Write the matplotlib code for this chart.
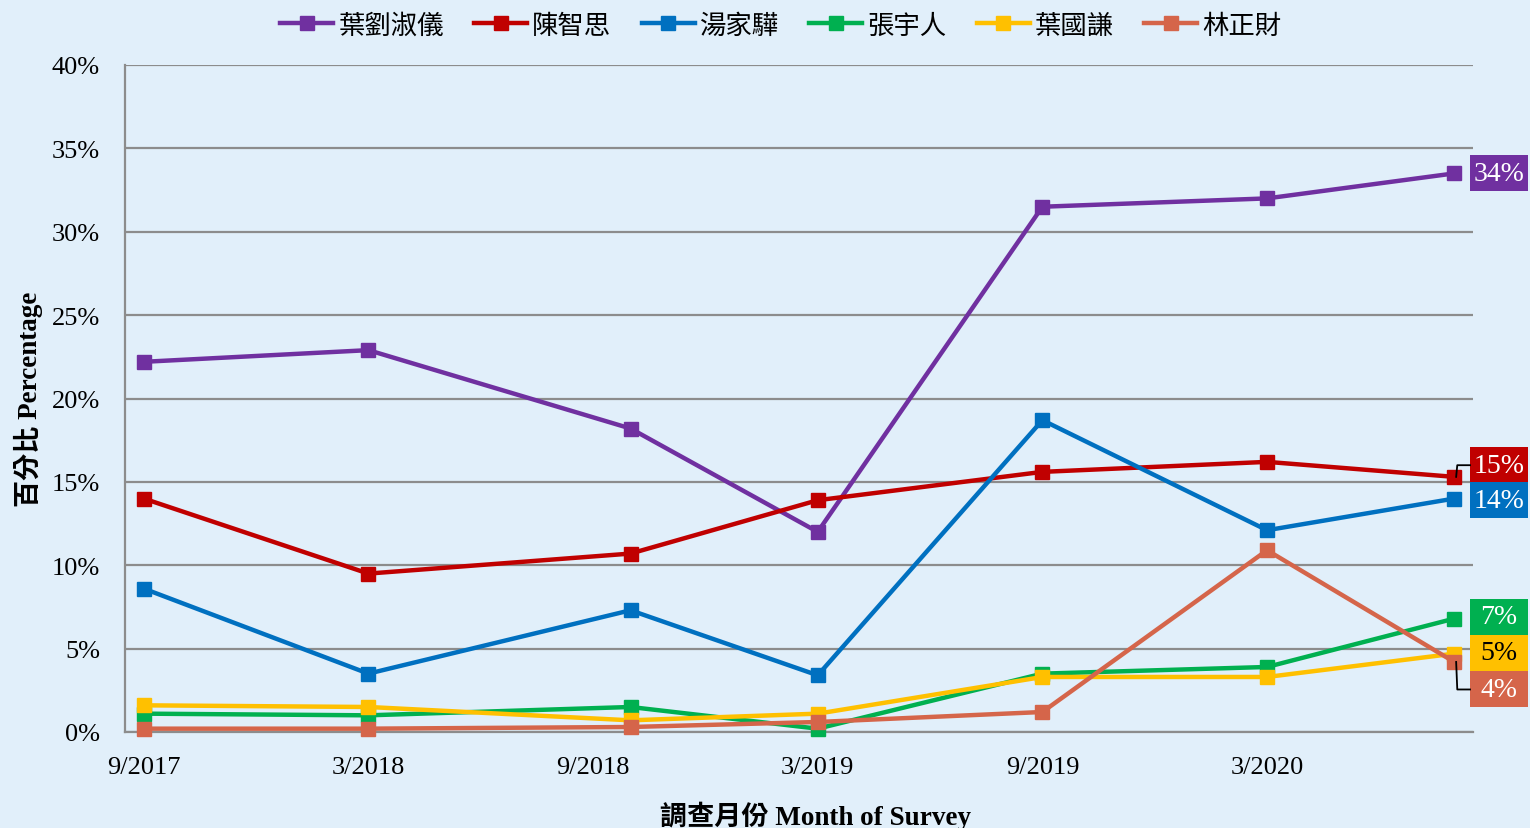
"""
Popularity trend of candidates by survey month
"""

import matplotlib
matplotlib.use("Agg")
import matplotlib.pyplot as plt
from matplotlib.patches import Rectangle

# survey data (percent)
survey_months = ["9/2017", "3/2018", "10/2018", "3/2019", "9/2019", "3/2020", "8/2020"]
tick_months = ["9/2017", "3/2018", "9/2018", "3/2019", "9/2019", "3/2020"]

names = ["葉劉淑儀", "陳智思", "湯家驊", "張宇人", "葉國謙", "林正財"]
regina_ip = [22.2, 22.9, 18.2, 12.0, 31.5, 32.0, 33.5]
bernard_chan = [14.0, 9.5, 10.7, 13.9, 15.6, 16.2, 15.3]
ronny_tong = [8.6, 3.5, 7.3, 3.4, 18.7, 12.1, 14.0]
tommy_cheung = [1.1, 1.0, 1.5, 0.2, 3.5, 3.9, 6.8]
ip_kwok_him = [1.6, 1.5, 0.7, 1.1, 3.3, 3.3, 4.7]
lam_ching_choi = [0.2, 0.2, 0.3, 0.6, 1.2, 10.9, 4.2]
series = [regina_ip, bernard_chan, ronny_tong, tommy_cheung, ip_kwok_him, lam_ching_choi]

colors = ["#7030A0", "#C00000", "#0070C0", "#00B050", "#FFC000", "#D5654A"]
label_text_colors = ["white", "white", "white", "white", "black", "white"]
# where the end labels sit (shifted so the boxes stack without overlap)
label_y = [33.5, 16.0, 13.9, 6.9, 4.75, 2.55]
leader = [False, True, False, False, False, True]

BG = "#E1EFFA"
SERIF = ["Liberation Serif", "Noto Sans CJK TC"]
CJK = ["Noto Sans CJK TC", "DejaVu Sans"]


def month_index(s):
    m, y = s.split("/")
    return (int(y) - 2017) * 12 + int(m) - 9


x = [month_index(s) for s in survey_months]
xt = [month_index(s) for s in tick_months]

fig = plt.figure(figsize=(15.3, 8.29), dpi=100, facecolor=BG)
ax = fig.add_axes([125 / 1530, 1 - 733 / 829, 1348 / 1530, 667 / 829])
ax.set_facecolor(BG)

for vals, name, c in zip(series, names, colors):
    ax.plot(x, vals, color=c, lw=3.2, marker="s", markersize=10,
            label=name, solid_joinstyle="round", clip_on=False, zorder=3)

xmin, xmax = -0.5, 35.5
ax.set_xlim(xmin, xmax)
ax.set_ylim(0, 40)
ax.set_yticks(range(0, 41, 5))
ax.set_yticklabels([f"{v}%" for v in range(0, 41, 5)], fontfamily=SERIF, fontsize=19)
ax.set_xticks(xt)
ax.set_xticklabels(tick_months, fontfamily=SERIF, fontsize=19)
ax.tick_params(axis="both", length=0)
ax.tick_params(axis="x", pad=17)
ax.tick_params(axis="y", pad=18)

ax.grid(axis="y", color="#8C8C8C", lw=1.6, zorder=0)
ax.set_axisbelow(True)
for s in ["top", "right"]:
    ax.spines[s].set_visible(False)
for s in ["left", "bottom"]:
    ax.spines[s].set_color("#8C8C8C")
    ax.spines[s].set_linewidth(1.6)

ax.set_xlabel("調查月份 Month of Survey", fontfamily=SERIF, fontsize=19.5,
              fontweight="bold")
ax.xaxis.set_label_coords(0.5125, -0.103)
ax.set_ylabel("百分比 Percentage", fontfamily=SERIF, fontsize=19.5,
              fontweight="bold", labelpad=6)

# end labels
px_per_month = 1348 / 36
px_per_pct = 667 / 40
box_x0 = xmax - 3 / px_per_month
box_w = 58 / px_per_month
box_h = 36 / px_per_pct
for vals, c, tc, ly, ld in zip(series, colors, label_text_colors, label_y, leader):
    ax.add_patch(Rectangle((box_x0, ly - box_h / 2), box_w, box_h, fc=c, ec="none",
                           clip_on=False, zorder=4))
    ax.text(box_x0 + box_w / 2, ly, f"{round(vals[-1])}%", color=tc, ha="center",
            va="center", fontfamily=SERIF, fontsize=20, clip_on=False, zorder=5)
    if ld:
        ax.plot([x[-1] + 0.05, x[-1] + 0.08, box_x0], [vals[-1], ly, ly], color="black",
                lw=1.3, clip_on=False, zorder=4)

fig.legend(loc="center", bbox_to_anchor=(781 / 1530, 1 - 26 / 829), ncol=6, frameon=False,
           prop={"family": CJK, "size": 19}, handlelength=2.0, handletextpad=0.2,
           columnspacing=1.15)

fig.savefig("out.png", dpi=100, facecolor=BG)
